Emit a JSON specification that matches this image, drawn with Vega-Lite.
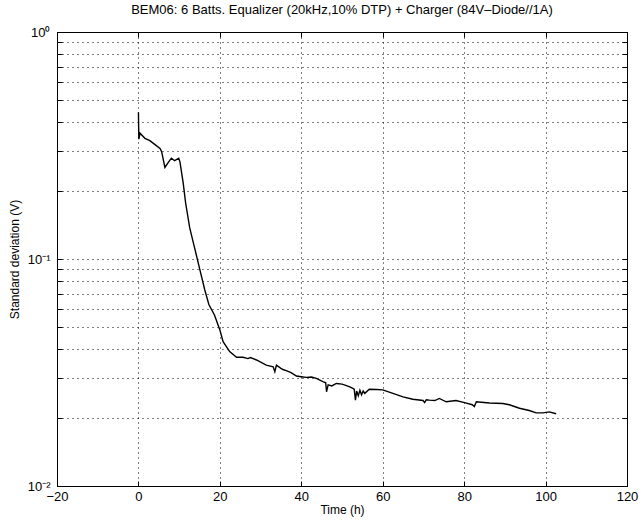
{
  "$schema": "https://vega.github.io/schema/vega-lite/v6.json",
  "width": 570,
  "height": 454,
  "autosize": {"type": "none"},
  "padding": {"left": 57, "top": 32, "right": 14, "bottom": 41},
  "background": "white",
  "config": {
    "font": "Liberation Sans",
    "view": {"stroke": "black", "strokeWidth": 1},
    "axis": {
      "domainColor": "black",
      "tickColor": "black",
      "labelColor": "black",
      "titleColor": "black",
      "labelFont": "Liberation Sans",
      "titleFont": "Liberation Sans",
      "labelFontSize": 13,
      "titleFontSize": 12,
      "titleFontWeight": "normal",
      "gridColor": "black",
      "gridDash": [1, 4],
      "gridOpacity": 1,
      "gridWidth": 1
    }
  },
  "title": {
    "text": "BEM06: 6 Batts. Equalizer (20kHz,10% DTP) + Charger (84V\u2013Diode//1A)",
    "font": "Liberation Sans",
    "fontSize": 13,
    "fontWeight": "normal",
    "color": "black",
    "anchor": "middle",
    "offset": 9
  },
  "data": {
    "values": [
      {"t": 0.0, "sd": 0.443},
      {"t": 0.1, "sd": 0.337},
      {"t": 0.4, "sd": 0.358},
      {"t": 1.6, "sd": 0.340},
      {"t": 2.8, "sd": 0.332},
      {"t": 4.0, "sd": 0.320},
      {"t": 5.3, "sd": 0.307},
      {"t": 5.7, "sd": 0.297},
      {"t": 6.5, "sd": 0.253},
      {"t": 7.3, "sd": 0.266},
      {"t": 8.1, "sd": 0.278},
      {"t": 8.9, "sd": 0.271},
      {"t": 9.9, "sd": 0.278},
      {"t": 10.2, "sd": 0.268},
      {"t": 11.0, "sd": 0.216},
      {"t": 11.6, "sd": 0.176},
      {"t": 12.6, "sd": 0.137},
      {"t": 13.9, "sd": 0.110},
      {"t": 15.1, "sd": 0.0895},
      {"t": 16.3, "sd": 0.073},
      {"t": 17.3, "sd": 0.063},
      {"t": 18.7, "sd": 0.0565},
      {"t": 20.0, "sd": 0.0487},
      {"t": 20.8, "sd": 0.0432},
      {"t": 22.4, "sd": 0.0391},
      {"t": 24.1, "sd": 0.0369},
      {"t": 25.7, "sd": 0.0369},
      {"t": 26.9, "sd": 0.0364},
      {"t": 27.5, "sd": 0.0368},
      {"t": 29.0, "sd": 0.0359},
      {"t": 31.4, "sd": 0.0341},
      {"t": 33.1, "sd": 0.0335},
      {"t": 33.5, "sd": 0.0319},
      {"t": 33.9, "sd": 0.0341},
      {"t": 35.0, "sd": 0.0330},
      {"t": 35.5, "sd": 0.0326},
      {"t": 36.3, "sd": 0.0322},
      {"t": 37.5, "sd": 0.0316},
      {"t": 38.8, "sd": 0.0305},
      {"t": 40.0, "sd": 0.0303},
      {"t": 41.2, "sd": 0.0301},
      {"t": 42.5, "sd": 0.0302},
      {"t": 43.7, "sd": 0.0298},
      {"t": 45.3, "sd": 0.0288},
      {"t": 46.0, "sd": 0.0285},
      {"t": 46.2, "sd": 0.0260},
      {"t": 46.6, "sd": 0.0279},
      {"t": 47.5, "sd": 0.0276},
      {"t": 48.6, "sd": 0.0283},
      {"t": 50.0, "sd": 0.0281},
      {"t": 51.1, "sd": 0.0277},
      {"t": 52.2, "sd": 0.0272},
      {"t": 53.0, "sd": 0.0267},
      {"t": 53.3, "sd": 0.0239},
      {"t": 53.6, "sd": 0.0262},
      {"t": 54.0, "sd": 0.0250},
      {"t": 54.4, "sd": 0.0264},
      {"t": 54.8, "sd": 0.0252},
      {"t": 55.2, "sd": 0.0262},
      {"t": 55.6, "sd": 0.0256},
      {"t": 56.7, "sd": 0.0267},
      {"t": 58.5, "sd": 0.0266},
      {"t": 60.0, "sd": 0.0265},
      {"t": 62.5, "sd": 0.0256},
      {"t": 65.0, "sd": 0.0247},
      {"t": 67.4, "sd": 0.0241},
      {"t": 69.9, "sd": 0.0238},
      {"t": 70.3, "sd": 0.0233},
      {"t": 70.7, "sd": 0.0240},
      {"t": 71.5, "sd": 0.0239},
      {"t": 72.8, "sd": 0.0238},
      {"t": 73.9, "sd": 0.0243},
      {"t": 75.6, "sd": 0.0235},
      {"t": 78.0, "sd": 0.0238},
      {"t": 80.1, "sd": 0.0233},
      {"t": 82.0, "sd": 0.0228},
      {"t": 82.5, "sd": 0.0224},
      {"t": 83.0, "sd": 0.0235},
      {"t": 86.2, "sd": 0.0232},
      {"t": 89.5, "sd": 0.0231},
      {"t": 91.1, "sd": 0.0228},
      {"t": 93.6, "sd": 0.0220},
      {"t": 96.0, "sd": 0.0215},
      {"t": 97.7, "sd": 0.0210},
      {"t": 99.3, "sd": 0.0210},
      {"t": 100.9, "sd": 0.0212},
      {"t": 102.6, "sd": 0.0208}
    ]
  },
  "layer": [
    {
      "mark": {"type": "line", "color": "black", "strokeWidth": 1.4, "clip": true},
      "encoding": {
        "x": {
          "field": "t",
          "type": "quantitative",
          "scale": {"domain": [-20, 120], "nice": false, "zero": false},
          "axis": {
            "orient": "bottom",
            "title": "Time (h)",
            "values": [-20, 0, 20, 40, 60, 80, 100, 120],
            "grid": true,
            "tickSize": -5,
            "labelPadding": 9,
            "titlePadding": 1,
            "labelFlush": false,
            "labelOverlap": false
          }
        },
        "y": {
          "field": "sd",
          "type": "quantitative",
          "scale": {"type": "log", "domain": [0.01, 1], "nice": false},
          "axis": {
            "orient": "left",
            "title": "Standard deviation (V)",
            "values": [0.01, 0.02, 0.03, 0.04, 0.05, 0.06, 0.07, 0.08, 0.09, 0.1, 0.2, 0.3, 0.4, 0.5, 0.6, 0.7, 0.8, 0.9, 1],
            "grid": true,
            "tickSize": -5,
            "labelPadding": 12,
            "titlePadding": 6,
            "labelFlush": false,
            "labelOverlap": false,
            "labelExpr": "abs(datum.value - 1) < 1e-9 ? '10\u2070' : abs(datum.value - 0.1) < 1e-9 ? '10\u207b\u00b9' : abs(datum.value - 0.01) < 1e-9 ? '10\u207b\u00b2' : ''"
          }
        }
      }
    },
    {
      "mark": {"type": "line", "opacity": 0},
      "encoding": {
        "x": {
          "field": "t",
          "type": "quantitative",
          "axis": {
            "orient": "top",
            "title": null,
            "values": [-20, 0, 20, 40, 60, 80, 100, 120],
            "grid": false,
            "labels": false,
            "tickSize": -5
          }
        },
        "y": {
          "field": "sd",
          "type": "quantitative",
          "axis": {
            "orient": "right",
            "title": null,
            "values": [0.01, 0.02, 0.03, 0.04, 0.05, 0.06, 0.07, 0.08, 0.09, 0.1, 0.2, 0.3, 0.4, 0.5, 0.6, 0.7, 0.8, 0.9, 1],
            "grid": false,
            "labels": false,
            "tickSize": -5
          }
        }
      }
    }
  ],
  "resolve": {"axis": {"x": "independent", "y": "independent"}}
}
